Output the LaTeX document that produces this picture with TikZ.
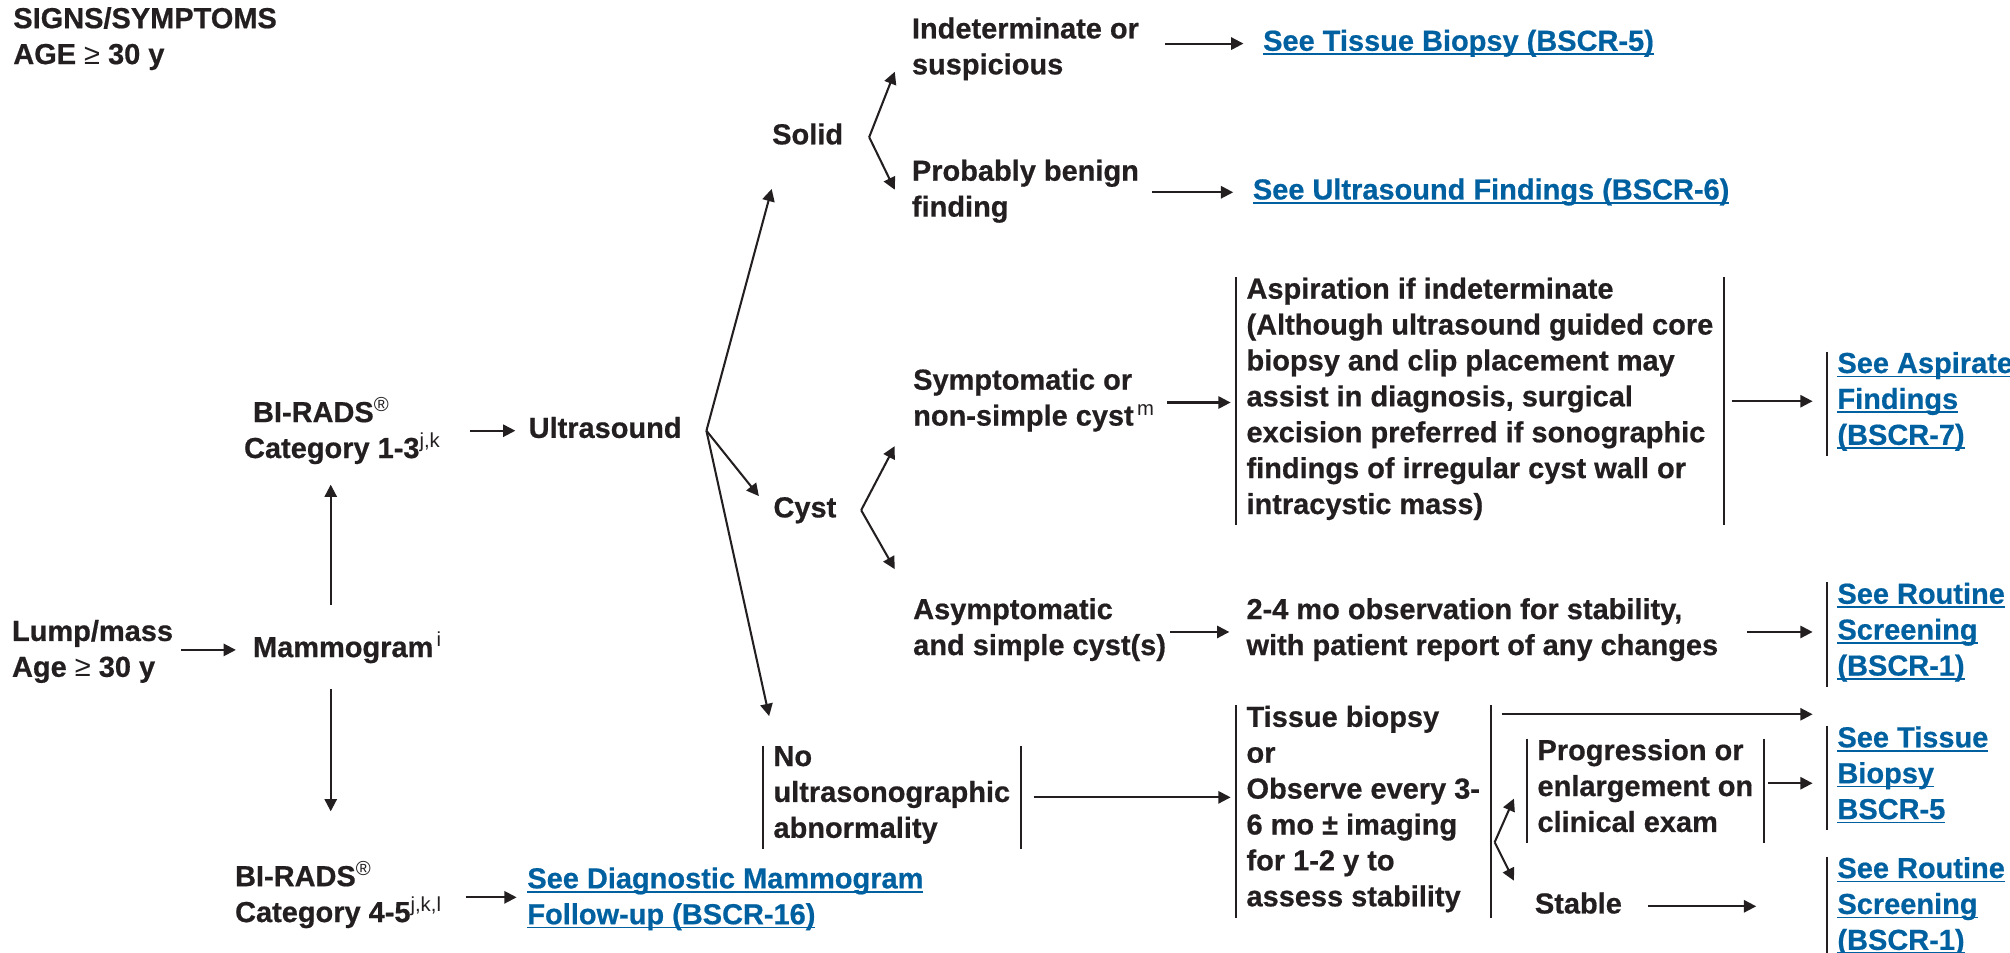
\documentclass[tikz,border=0pt]{standalone}
\usepackage{fontspec}
\setmainfont{Liberation Sans}[BoldFeatures={FakeBold=0.6}]
\usetikzlibrary{arrows.meta}
\definecolor{ink}{RGB}{35,31,32}
\definecolor{lnkblue}{RGB}{0,96,160}
\newcommand{\lnk}[1]{\setbox0\hbox{#1}\rlap{\rule[-1.65pt]{\wd0}{0.65pt}}\box0}
\newcommand{\fs}{\fontsize{11.3}{14}\selectfont\bfseries}

\begin{document}
\begin{tikzpicture}[x=0.5pt,y=-0.5pt]
\tikzstyle{every node}+=[inner sep=0pt, text=ink, execute at begin node=\strut, execute at end node=\strut]
\tikzstyle{txt}=[anchor=west, align=left, font=\fs]
\tikzstyle{barbox}=[txt, inner xsep=4pt]
\tikzstyle{lnk}=[barbox, text=lnkblue]
\tikzstyle{arr}=[draw=ink, line width=0.8pt, -{Triangle[length=4.8pt,width=4.8pt]}]
\tikzstyle{bar}=[draw=ink, line width=0.8pt]
\useasboundingbox (0,0) rectangle (1568,743);

\node[txt] (sig) at (10,32) {SIGNS/SYMPTOMS\\AGE {\mdseries ≥} 30 y};
\node[txt] (lump) at (9,510) {Lump/mass\\Age {\mdseries ≥} 30 y};
\node[txt] (mam) at (197,507) {Mammogram\textsuperscript{\mdseries\,i}};
\node[txt] (bi13) at (190,338) {\hspace{3.5pt}BI-RADS\textsuperscript{\mdseries ®}\\Category 1-3\textsuperscript{\mdseries j,k}};
\node[txt] (us) at (412,336) {Ultrasound};
\node[txt] (bi45) at (183,700) {BI-RADS\textsuperscript{\mdseries ®}\\Category 4-5\textsuperscript{\mdseries j,k,l}};
\node[txt, text=lnkblue] (diag) at (411,703) {\lnk{See Diagnostic Mammogram}\\\lnk{Follow-up (BSCR-16)}};

\node[txt] (solid) at (602,107) {Solid};
\node[txt] (indet) at (711,40) {Indeterminate or\\suspicious};
\node[txt, text=lnkblue] (bx5) at (985,34) {\lnk{See Tissue Biopsy (BSCR-5)}};
\node[txt] (benign) at (711,151) {Probably benign\\finding};
\node[txt, text=lnkblue] (bx6) at (977,150) {\lnk{See Ultrasound Findings (BSCR-6)}};

\node[txt] (cyst) at (603,398) {Cyst};
\node[txt] (symp) at (712,314) {Symptomatic or\\non-simple cyst\textsuperscript{\mdseries\,m}};
\node[barbox] (asp) at (964,313) {Aspiration if indeterminate\\(Although ultrasound guided core\\biopsy and clip placement may\\assist in diagnosis, surgical\\excision preferred if sonographic\\findings of irregular cyst wall or\\intracystic mass)};
\node[lnk] (aspf) at (1425,315) {\lnk{See Aspirate}\\\lnk{Findings}\\\lnk{(BSCR-7)}};
\node[txt] (asym) at (712,493) {Asymptomatic\\and simple cyst(s)};
\node[txt] (obs) at (972,493) {2-4 mo observation for stability,\\with patient report of any changes};
\node[lnk] (rs1) at (1425,495) {\lnk{See Routine}\\\lnk{Screening}\\\lnk{(BSCR-1)}};

\node[barbox] (nous) at (595,622) {No\\ultrasonographic\\abnormality};
\node[barbox] (tbx) at (964,633) {Tissue biopsy\\or\\Observe every 3-\\6 mo ± imaging\\for 1-2 y to\\assess stability};
\node[barbox] (prog) at (1191,617) {Progression or\\enlargement on\\clinical exam};
\node[lnk] (bx5b) at (1425,607) {\lnk{See Tissue}\\\lnk{Biopsy}\\\lnk{BSCR-5}};
\node[txt] (stable) at (1197,707) {Stable};
\node[lnk] (rs1b) at (1425,709) {\lnk{See Routine}\\\lnk{Screening}\\\lnk{(BSCR-1)}};

\draw[bar] (asp.north west) -- (asp.south west) (asp.north east) -- (asp.south east);
\draw[bar] (nous.north west) -- (nous.south west) (nous.north east) -- (nous.south east);
\draw[bar] (tbx.north west) -- (tbx.south west) (tbx.north east) -- (tbx.south east);
\draw[bar] (prog.north west) -- (prog.south west) (prog.north east) -- (prog.south east);
\draw[bar] (aspf.north west) -- (aspf.south west);
\draw[bar] (rs1.north west) -- (rs1.south west);
\draw[bar] (bx5b.north west) -- (bx5b.south west);
\draw[bar] (rs1b.north west) -- (rs1b.south west);

\coordinate (mx) at (258,507);
\draw[arr, shorten <=3pt, shorten >=6.5pt] (lump.east |- mam.west) -- (mam.west);
\draw[arr, shorten <=10.5pt, shorten >=6pt] (mam.north -| mx) -- (bi13.south -| mx);
\draw[arr, shorten <=8pt, shorten >=19.5pt] (mam.south -| mx) -- (bi45.north -| mx);
\draw[arr, shorten <=11pt, shorten >=5pt] (bi13.east |- us.west) -- (us.west);
\draw[arr, shorten <=9pt, shorten >=4pt] (bi45.east) -- (bi45.east -| diag.west);

\coordinate (usf) at ([xshift=9.5pt]us.east);
\draw[arr] (usf) -- ([yshift=-13pt]solid.south west);
\draw[arr] (usf) -- ([xshift=-5.5pt,yshift=5.5pt]cyst.west);
\draw[arr] (usf) -- ([xshift=2.5pt,yshift=11.5pt]nous.north west);

\coordinate (sf) at ([xshift=10pt]solid.east);
\draw[arr] (sf) -- ([xshift=-6.5pt,yshift=-8pt]indet.west);
\draw[arr] (sf) -- ([xshift=-6.5pt,yshift=1.5pt]benign.west);
\draw[arr, shorten <=10pt, shorten >=7.5pt] (indet.east |- bx5.west) -- (bx5.west);
\draw[arr, shorten <=5pt, shorten >=7.5pt] (benign.east |- bx6.west) -- (bx6.west);

\coordinate (cf) at ([xshift=9.5pt]cyst.east);
\draw[arr] (cf) -- ([xshift=-7pt,yshift=-17pt]symp.west);
\draw[arr] (cf) -- ([xshift=-7pt,yshift=24.5pt]asym.west);
\draw[arr, shorten <=4.5pt, shorten >=2pt] (symp.east) -- (symp.east -| asp.west);
\draw[arr, shorten <=3pt, shorten >=5.5pt] (asp.east) -- (asp.east -| aspf.west);
\draw[arr, shorten <=1.5pt, shorten >=6.5pt] (asym.east) -- (obs.west);
\draw[arr, shorten <=11pt, shorten >=5.5pt] (obs.east) -- (obs.east -| rs1.west);

\draw[arr, shorten <=5pt, shorten >=2pt] (nous.east) -- (nous.east -| tbx.west);
\draw[arr, shorten <=4.5pt, shorten >=5.5pt] ([yshift=-3.5pt]tbx.north east) -- ([yshift=-3.5pt]tbx.north east -| bx5b.west);
\coordinate (tf) at ([xshift=1.5pt,yshift=-12pt]tbx.east);
\draw[arr] (tf) -- ([xshift=-5pt,yshift=-3pt]prog.west);
\draw[arr] (tf) -- ([xshift=-8pt,yshift=10pt]stable.west);
\draw[arr, shorten <=1.5pt, shorten >=5.5pt] ([yshift=3pt]prog.east) -- ([yshift=3pt]prog.east -| bx5b.west);
\draw[arr, shorten <=10pt, shorten >=27.5pt] (stable.east) -- (stable.east -| rs1b.west);
\end{tikzpicture}
\end{document}
